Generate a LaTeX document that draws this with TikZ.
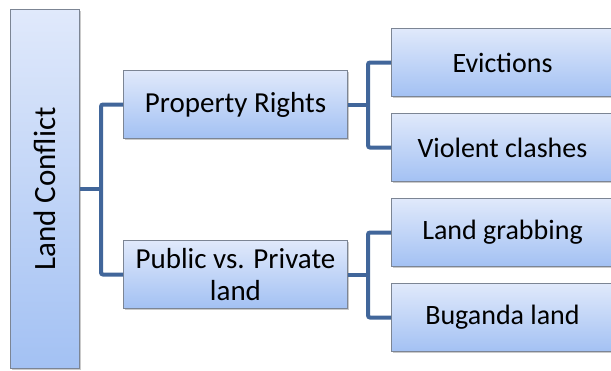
\documentclass[tikz,border=0pt]{standalone}
\usepackage{fontspec}
\setmainfont{Carlito}
\usetikzlibrary{shadows}
\definecolor{linkblue}{HTML}{41669A}
\definecolor{boxtop}{HTML}{E0E9FB}
\definecolor{boxbot}{HTML}{A3C1F3}
\definecolor{boxedge}{HTML}{7C8594}
\tikzset{
  box/.style={draw=boxedge, line width=1pt, top color=boxtop, bottom color=boxbot,
    drop shadow={shadow xshift=1.5pt, shadow yshift=-1.5pt, opacity=0.35, fill=black!60},
    align=center, inner sep=0pt},
  midbox/.style={box, minimum width=224pt, minimum height=68pt, anchor=north west,
    font=\fontsize{29}{32}\selectfont},
  leafbox/.style={box, minimum width=222pt, minimum height=68pt, anchor=north west,
    font=\fontsize{28}{31}\selectfont},
  link/.style={draw=linkblue, line width=4pt, rounded corners=2pt}
}
\begin{document}
\begin{tikzpicture}[x=1pt, y=-1pt]
  \useasboundingbox (0,0) rectangle (611,370);
  % root box (rotated label)
  \node[box, minimum width=69pt, minimum height=359pt, anchor=north west] (root) at (10,9) {};
  \node[rotate=90, font=\fontsize{31}{34}\selectfont] (rootlbl) at (root.center) {Land Conflict};
  % middle level
  \node[midbox] (prop) at (123,70) {Property Rights};
  \node[midbox] (pub) at (123,240) {Public vs. Private\\land};
  % leaves
  \node[leafbox] (evi) at (391,28) {Evictions};
  \node[leafbox] (vio) at (391,113) {Violent clashes};
  \node[leafbox] (grab) at (391,198) {Land grabbing};
  \node[leafbox] (bug) at (391,283) {Buganda land};
  % connectors
  \draw[link] (root.east) -- ++(21,0);
  \draw[link] (prop.west) -- ++(-22,0) |- (pub.west);
  \draw[link] (prop.east) -- ++(20,0);
  \draw[link] (evi.west) -- ++(-23,0) |- (vio.west);
  \draw[link] (pub.east) -- ++(20,0);
  \draw[link] (grab.west) -- ++(-23,0) |- (bug.west);
\end{tikzpicture}
\end{document}
